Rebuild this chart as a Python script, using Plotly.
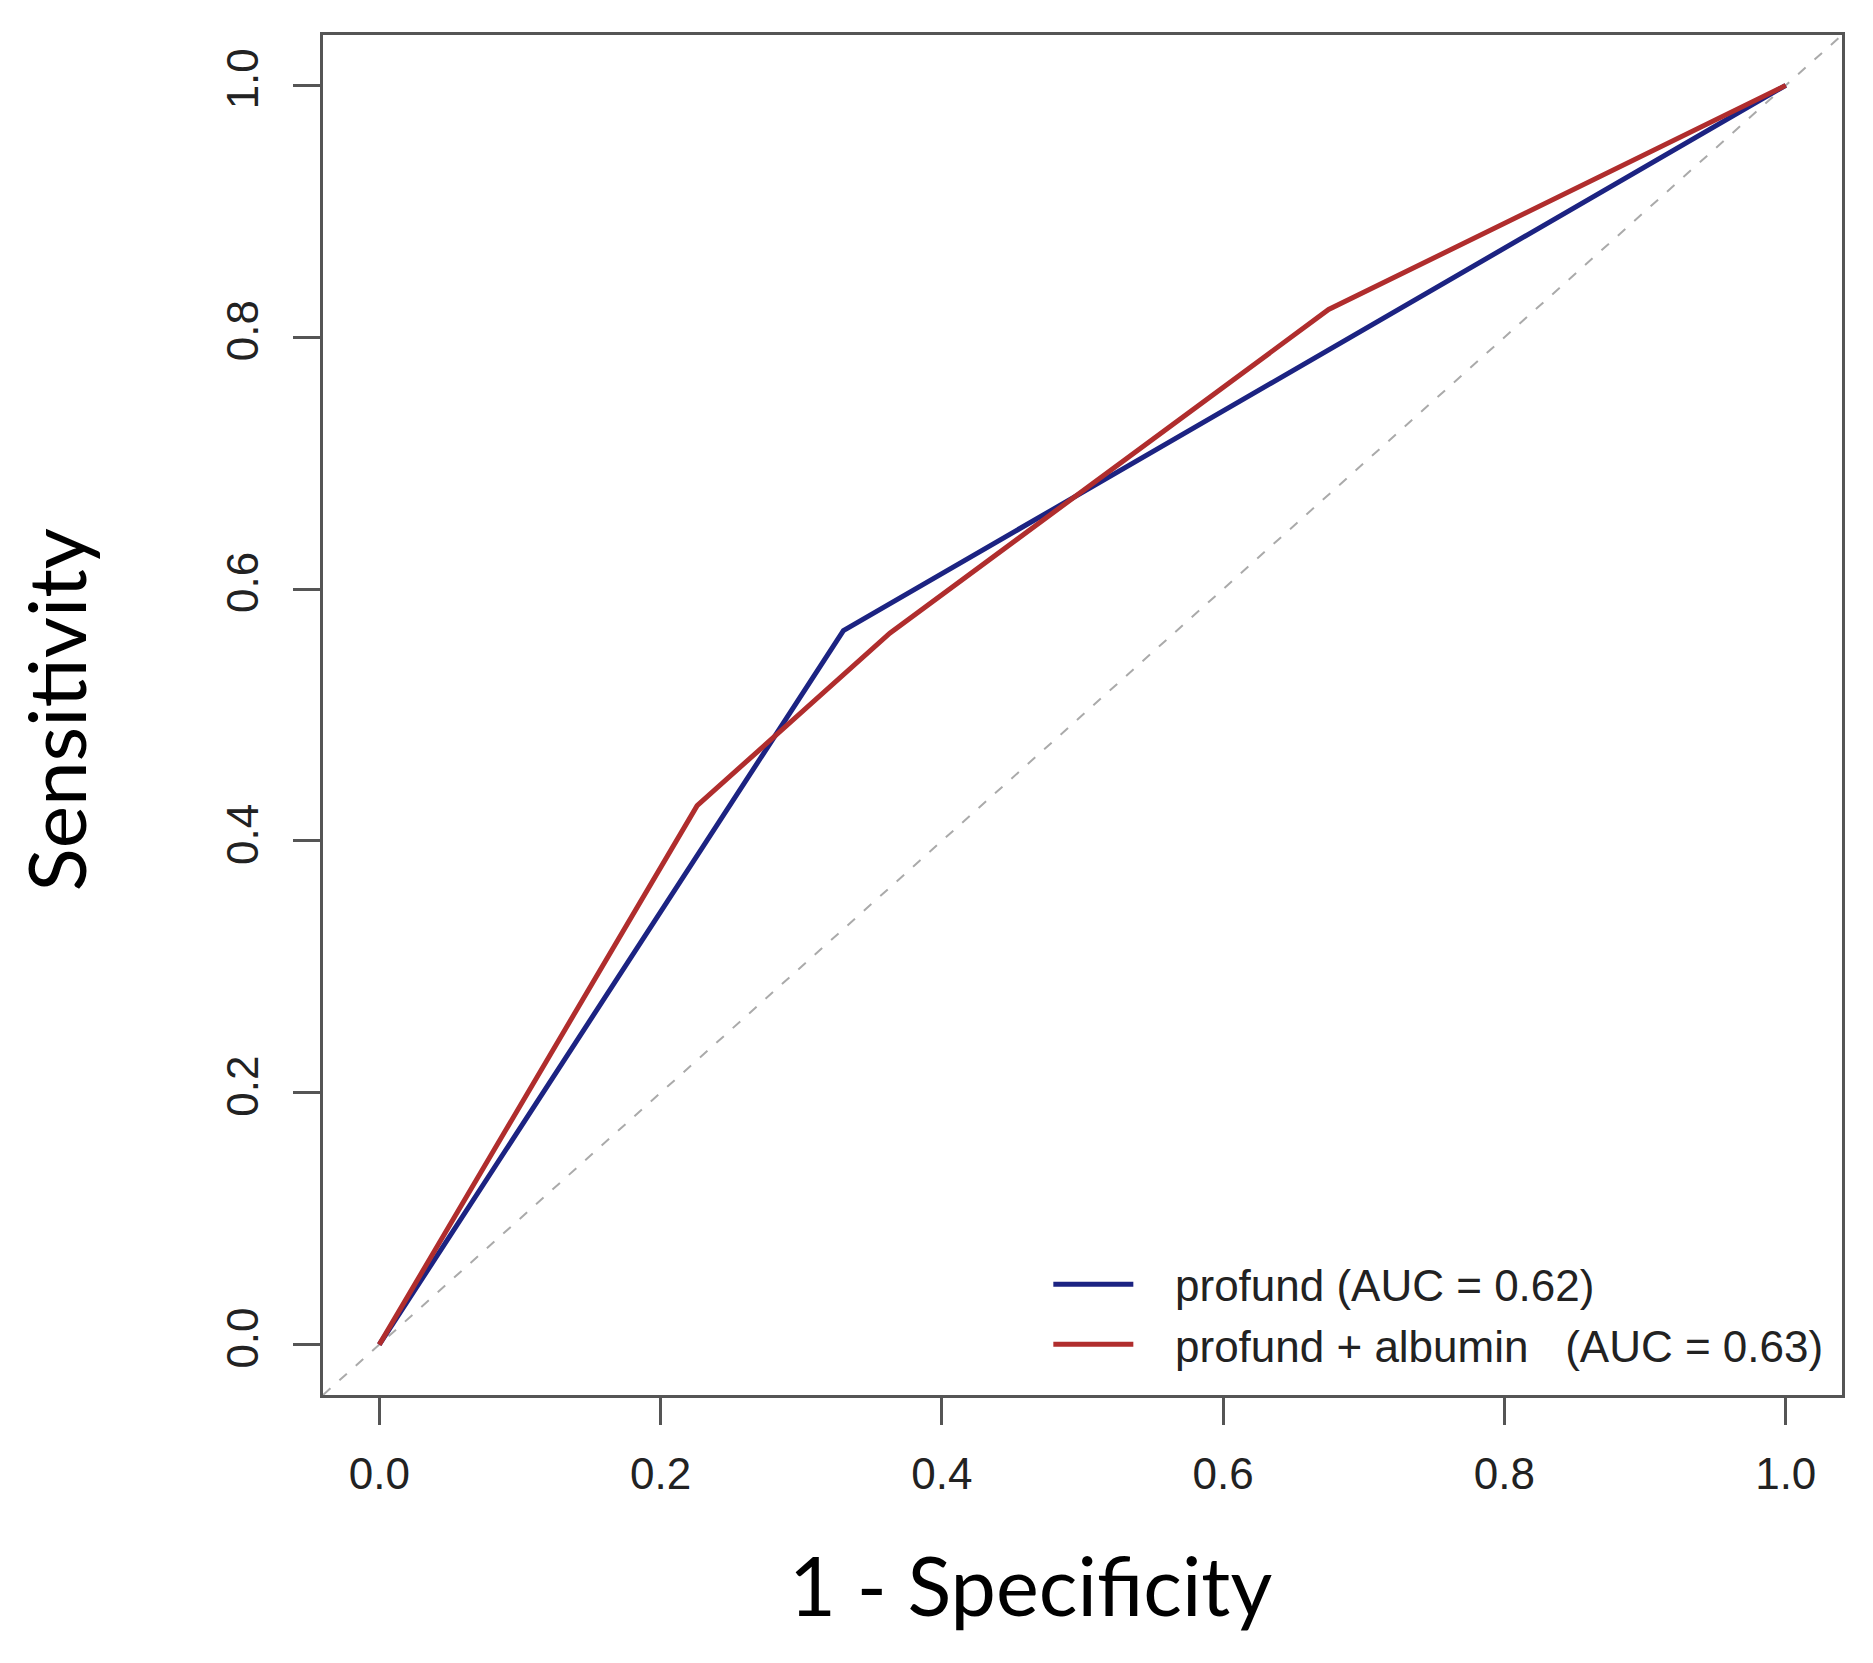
import plotly.graph_objects as go

# ROC points
fpr_profund = [0.0, 0.33, 1.0]
tpr_profund = [0.0, 0.567, 1.0]
fpr_alb = [0.0, 0.226, 0.363, 0.675, 1.0]
tpr_alb = [0.0, 0.428, 0.565, 0.822, 1.0]
names = ["profund (AUC = 0.62)", "profund + albumin\u00a0\u00a0\u00a0(AUC = 0.63)"]
ticks = [0.0, 0.2, 0.4, 0.6, 0.8, 1.0]
ticktext = ["0.0", "0.2", "0.4", "0.6", "0.8", "1.0"]

blue = "#1c2382"
red = "#b02d2d"
axcol = "#555555"
gap = "\u00a0\u00a0\u00a0"  # space between legend line and label

fig = go.Figure()
# chance line across the whole box
fig.add_trace(go.Scatter(x=[-0.04, 1.04], y=[-0.04, 1.04], mode="lines",
                         line=dict(color="#aaaaaa", width=2, dash="10px,12px"),
                         showlegend=False, hoverinfo="skip"))
fig.add_trace(go.Scatter(x=fpr_profund, y=tpr_profund, mode="lines", name=gap + names[0],
                         line=dict(color=blue, width=5)))
fig.add_trace(go.Scatter(x=fpr_alb, y=tpr_alb, mode="lines", name=gap + names[1],
                         line=dict(color=red, width=5)))

axis_common = dict(range=[-0.04, 1.04], tickvals=ticks, ticktext=ticktext,
                   showgrid=False, zeroline=False, showline=True, mirror=True,
                   linecolor=axcol, linewidth=3, ticks="outside", ticklen=27,
                   tickwidth=3, tickcolor=axcol,
                   tickfont=dict(family="Liberation Sans", size=44, color="#222222"))

# page body adds 8px, so the figure is 16px smaller than the window
fig.update_layout(
    width=1857, height=1647,
    margin=dict(l=315, r=23, t=27, b=260),
    plot_bgcolor="white", paper_bgcolor="white",
    xaxis=dict(**axis_common, ticklabelstandoff=11),
    yaxis=dict(**axis_common, tickangle=-90, ticklabelstandoff=17),
    legend=dict(x=0.991, y=0.011, xanchor="right", yanchor="bottom",
                font=dict(family="Liberation Sans", size=44, color="#222222"),
                bgcolor="rgba(0,0,0,0)", itemwidth=80, tracegroupgap=0),
    annotations=[
        dict(text="1 - Specificity", xref="paper", yref="paper", x=0.466, y=-0.139,
             xanchor="center", yanchor="middle", showarrow=False,
             font=dict(family="Lato", size=81, color="black")),
        dict(text="Sensitivity", xref="paper", yref="paper", x=-0.1765, y=0.504,
             xanchor="center", yanchor="middle", textangle=-90, showarrow=False,
             font=dict(family="Lato", size=80, color="black")),
    ],
)

fig.write_html("out.html")
